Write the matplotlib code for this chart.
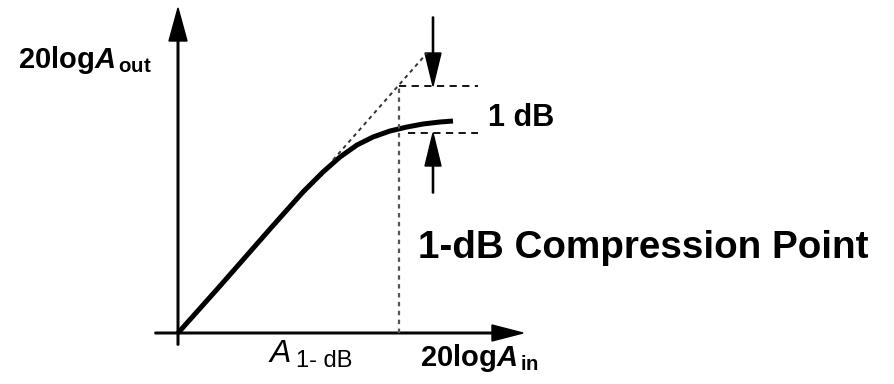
import numpy as np
import matplotlib
matplotlib.use("Agg")
import matplotlib.pyplot as plt

plt.rcParams['font.family'] = ['Liberation Sans', 'DejaVu Sans']
plt.rcParams['mathtext.fontset'] = 'custom'
plt.rcParams['mathtext.rm'] = 'Liberation Sans:bold'
plt.rcParams['mathtext.it'] = 'Liberation Sans:italic:bold'
plt.rcParams['mathtext.bf'] = 'Liberation Sans:bold'

# gain curve (input level -> output level, arbitrary units)
a_in = [0, 42, 92, 125, 145, 162, 179, 195, 212, 229, 245, 262, 275]
a_out = [0, 47, 104, 141, 161, 176, 188, 196, 202, 206, 209, 211, 212]

# extrapolated small-signal line
ext_in = [155, 249]
ext_out = [173, 280]

# 1-dB point
p1db_in = 221
ideal_out = 247
real_out = 200
marker_end = 300

fig = plt.figure(figsize=(8.95, 3.84), dpi=100)
ax = fig.add_axes([0, 0, 1, 1])
ax.set_xlim(-178, 717)
ax.set_ylim(-51, 333)
ax.axis('off')

# axes with arrow heads
ax.arrow(0, -12, 0, 337, width=1.6, head_width=18, head_length=33,
         length_includes_head=True, color='k')
ax.arrow(-23, 0, 368, 0, width=1.6, head_width=16, head_length=31,
         length_includes_head=True, color='k')

# curve
ax.plot(a_in, a_out, color='k', lw=3.6, solid_capstyle='butt', solid_joinstyle='round')

# dashed helpers
ax.plot(ext_in, ext_out, color='#333333', lw=1.4, ls=(0, (2, 2)))
ax.plot([p1db_in, p1db_in], [0, ideal_out], color='#555555', lw=1.6, ls=(0, (2, 2)))
ax.plot([p1db_in, marker_end], [ideal_out, ideal_out], color='k', lw=1.3, ls=(0, (4, 3)))
ax.plot([p1db_in + 9, marker_end], [real_out, real_out], color='k', lw=1.3, ls=(0, (4, 3)))

# 1 dB arrows
ax.arrow(255, 316, 0, ideal_out - 316, width=1.2, head_width=16, head_length=33,
         length_includes_head=True, color='k')
ax.arrow(255, 140, 0, real_out - 140, width=1.2, head_width=16, head_length=33,
         length_includes_head=True, color='k')

# labels
ax.text(-160, 265, r'$\mathrm{20log}\mathit{A}_{\,\mathrm{out}}$', fontsize=21,
        va='baseline', ha='left')
ax.text(310, 207, '1 dB', fontsize=22, fontweight='bold', va='baseline', ha='left')
ax.text(240, 75, '1-dB Compression Point', fontsize=27.8, fontweight='bold',
        va='baseline', ha='left')
ax.text(92, -29, 'A', fontsize=23, style='italic', va='baseline', ha='left')
ax.text(118, -34, '1- dB', fontsize=17, va='baseline', ha='left')
ax.text(242, -33, r'$\mathrm{20log}\mathit{A}_{\,\mathrm{in}}$', fontsize=21,
        va='baseline', ha='left')

fig.savefig('out.png', dpi=100, facecolor='white')
